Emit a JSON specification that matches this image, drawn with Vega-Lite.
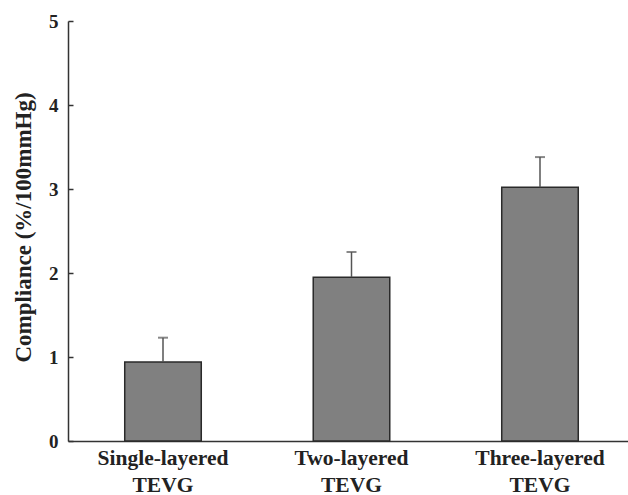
{
  "$schema": "https://vega.github.io/schema/vega-lite/v6.json",
  "width": 560,
  "height": 420,
  "autosize": {"type": "none"},
  "padding": {"left": 68, "top": 21, "right": 0, "bottom": 54},
  "background": "white",
  "config": {"view": {"stroke": null}, "font": "Liberation Serif"},
  "data": {
    "values": [
      {"group": "Single-layered TEVG", "value": 0.94, "err": 1.23},
      {"group": "Two-layered TEVG", "value": 1.95, "err": 2.25},
      {"group": "Three-layered TEVG", "value": 3.02, "err": 3.38}
    ]
  },
  "encoding": {
    "x": {
      "field": "group",
      "type": "nominal",
      "sort": null,
      "scale": {"range": [0, 567], "paddingInner": 0.594, "paddingOuter": 0.301},
      "axis": {
        "title": null,
        "labelAngle": 0,
        "ticks": false,
        "domainColor": "#333333",
        "domainWidth": 1.5,
        "labelFont": "Liberation Serif",
        "labelFontWeight": "bold",
        "labelFontSize": 21.5,
        "labelColor": "#222222",
        "labelExpr": "split(datum.label, ' ')",
        "labelLineHeight": 27,
        "labelPadding": 6,
        "labelBaseline": "top"
      }
    }
  },
  "layer": [
    {
      "mark": {"type": "bar", "fill": "#808080", "stroke": "#2a2a2a", "strokeWidth": 1.5},
      "encoding": {
        "y": {
          "field": "value",
          "type": "quantitative",
          "scale": {"domain": [0, 5], "nice": false},
          "axis": {
            "values": [0, 1, 2, 3, 4, 5],
            "format": "d",
            "grid": false,
            "ticks": true,
            "tickSize": -5,
            "tickColor": "#333333",
            "tickWidth": 1.5,
            "domainColor": "#333333",
            "domainWidth": 1.5,
            "labelFont": "Liberation Serif",
            "labelFontWeight": "bold",
            "labelFontSize": 19,
            "labelColor": "#222222",
            "labelPadding": 15,
            "title": "Compliance (%/100mmHg)",
            "titleFont": "Liberation Serif",
            "titleFontWeight": "bold",
            "titleFontSize": 23,
            "titleColor": "#222222",
            "titlePadding": 13,
            "titleY": 206
          }
        }
      }
    },
    {
      "mark": {"type": "rule", "color": "#555555", "strokeWidth": 1.5},
      "encoding": {
        "y": {"field": "value", "type": "quantitative"},
        "y2": {"field": "err"}
      }
    },
    {
      "mark": {"type": "tick", "color": "#555555", "size": 10, "thickness": 2},
      "encoding": {
        "y": {"field": "err", "type": "quantitative"}
      }
    }
  ]
}
